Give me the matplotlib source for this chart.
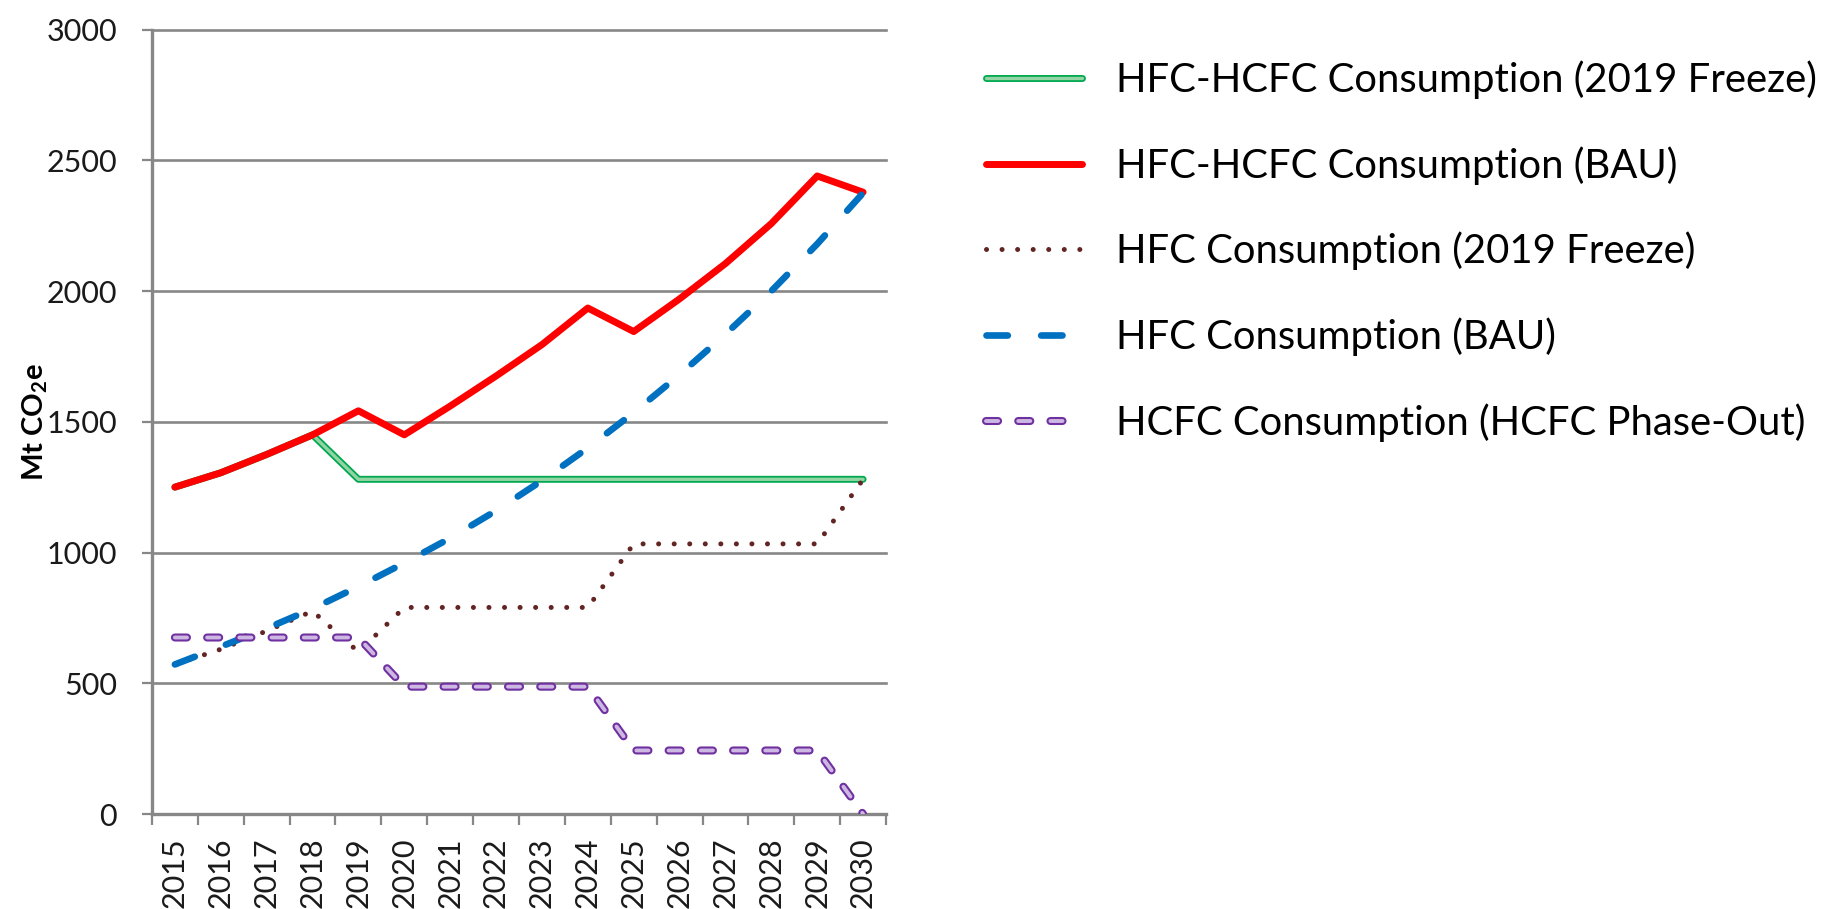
import matplotlib
matplotlib.use("Agg")
import matplotlib.pyplot as plt
import matplotlib.patheffects as pe

# Consumption projections, Mt CO2e
years = ["2015", "2016", "2017", "2018", "2019", "2020", "2021", "2022",
         "2023", "2024", "2025", "2026", "2027", "2028", "2029", "2030"]
hfc_hcfc_freeze = [1250, 1305, 1375, 1450, 1280, 1280, 1280, 1280,
                   1280, 1280, 1280, 1280, 1280, 1280, 1280, 1280]
hfc_hcfc_bau = [1250, 1305, 1375, 1450, 1542, 1450, 1560, 1675,
                1795, 1935, 1845, 1970, 2105, 2258, 2440, 2378]
hfc_freeze = [572, 630, 700, 776, 620, 790, 790, 790,
              790, 790, 1033, 1033, 1033, 1033, 1033, 1280]
hfc_bau = [572, 640, 710, 785, 870, 960, 1055, 1160,
           1275, 1400, 1535, 1680, 1835, 2000, 2180, 2375]
hcfc_phaseout = [675, 675, 675, 675, 675, 487, 487, 487,
                 487, 487, 243, 243, 243, 243, 243, 0]

labels = ["HFC-HCFC Consumption (2019 Freeze)",
          "HFC-HCFC Consumption (BAU)",
          "HFC Consumption (2019 Freeze)",
          "HFC Consumption (BAU)",
          "HCFC Consumption (HCFC Phase-Out)"]

FONT = "Lato"
plt.rcParams["font.family"] = [FONT, "DejaVu Sans"]
plt.rcParams["mathtext.fontset"] = "custom"
plt.rcParams["mathtext.rm"] = FONT
plt.rcParams["mathtext.bf"] = FONT + ":bold"

AXIS_GREY = "#878787"

fig = plt.figure(figsize=(18.22, 9.09), dpi=100)
ax = fig.add_axes([0.0834, 0.1045, 0.4029, 0.863])

x = list(range(len(years)))

# double green line
l_green, = ax.plot(x, hfc_hcfc_freeze, color="#00a84f", lw=5,
                   solid_joinstyle="round", solid_capstyle="round",
                   path_effects=[pe.Stroke(linewidth=5, foreground="#00a84f"),
                                 pe.Stroke(linewidth=2.4, foreground="#93d4a4")],
                   label=labels[0], zorder=3)
l_red, = ax.plot(x, hfc_hcfc_bau, color="#ff0000", lw=5,
                 solid_joinstyle="round", solid_capstyle="round",
                 label=labels[1], zorder=4)
l_dot, = ax.plot(x, hfc_freeze, color="#632523", lw=3.6,
                 linestyle=(0, (0.01, 3.1)), dash_capstyle="round",
                 dash_joinstyle="round", label=labels[2], zorder=5)
l_blue, = ax.plot(x, hfc_bau, color="#0070c0", lw=4.8,
                  linestyle=(0, (3.2, 5.0)), dash_capstyle="round",
                  dash_joinstyle="round", label=labels[3], zorder=6)
# hollow purple dashes
l_purple, = ax.plot(x, hcfc_phaseout, color="#7030a0", lw=5.8,
                    linestyle=(0, (1.5, 2.5)), dash_capstyle="round",
                    dash_joinstyle="round",
                    path_effects=[pe.Stroke(linewidth=5.8, foreground="#7030a0"),
                                  pe.Stroke(linewidth=2.8, foreground="#cdb8e4")],
                    label=labels[4], zorder=7)

ax.set_xlim(-0.5, len(years) - 0.5)
ax.set_ylim(0, 3000)
ax.set_yticks([0, 500, 1000, 1500, 2000, 2500, 3000])
ax.set_xticks(x)
ax.set_xticklabels(years, rotation=90)
ax.set_xticks([i - 0.5 for i in range(len(years) + 1)], minor=True)

ax.tick_params(axis="y", which="major", length=7.2, width=1.6, color=AXIS_GREY,
               pad=18, labelsize=22, labelcolor="#1a1a1a")
ax.tick_params(axis="x", which="major", length=0, pad=17, labelsize=22,
               labelcolor="#1a1a1a")
ax.tick_params(axis="x", which="minor", length=8, width=1.6, color=AXIS_GREY)

ax.yaxis.grid(True, color=AXIS_GREY, lw=1.9)
ax.set_axisbelow(True)
for gl in ax.get_ygridlines():
    gl.set_clip_on(False)

for side in ("top", "right"):
    ax.spines[side].set_visible(False)
for side in ("left", "bottom"):
    ax.spines[side].set_color(AXIS_GREY)
    ax.spines[side].set_linewidth(2.4)
    ax.spines[side].set_zorder(2.5)

ax.set_ylabel(r"Mt CO$_\mathbf{2}$e", fontsize=21, fontweight="bold")
ax.yaxis.set_label_coords(-0.139, 0.5)

fig.legend(handles=[l_green, l_red, l_dot, l_blue, l_purple],
           loc="upper left", bbox_to_anchor=(0.541, 0.934),
           frameon=False, handlelength=2.4, handletextpad=0.85,
           labelspacing=1.18, borderpad=0, borderaxespad=0,
           prop={"family": [FONT, "DejaVu Sans"], "size": 28.8})

fig.savefig("out.png", dpi=100, facecolor="white")
